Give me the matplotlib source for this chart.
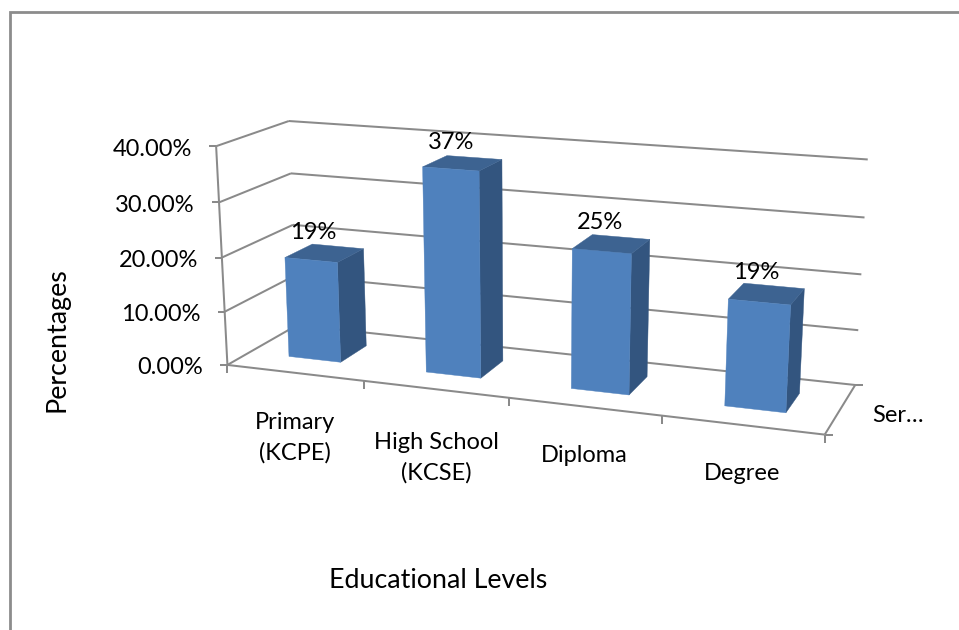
import numpy as np
import matplotlib
matplotlib.use("Agg")
import matplotlib.pyplot as plt
from matplotlib.patches import Polygon

categories = ["Primary\n(KCPE)", "High School\n(KCSE)", "Diploma", "Degree"]
values = [18.7, 37.2, 25, 18.7]
value_labels = ["19%", "37%", "25%", "19%"]
y_ticks = [0, 10, 20, 30, 40]
y_tick_labels = ["0.00%", "10.00%", "20.00%", "30.00%", "40.00%"]
series_label = "Ser\u2026"
x_title = "Educational Levels"
y_title = "Percentages"

Y_MAX = 40.0
BAR_W = 0.385  # fraction of category width
D0, D1 = 0.31, 0.71  # bar depth extent

# calibration of the chart box: (u, v, w) -> pixel
cal = [((0, 0, 0), (227.3, 365.0)), ((0, 1, 0), (216.0, 146.7)),
       ((0, 0, 1), (297.0, 325.0)), ((0, 1, 1), (289.0, 120.7)),
       ((1, 0, 1), (855.0, 385.7)), ((1, 1, 1), (867.7, 159.3)),
       ((1, 0, 0), (825.0, 434.0))]
A, b = [], []
for (u, v, w), (px, py) in cal:
    A.append([u, v, w, 1, 0, 0, 0, 0, -px*u, -px*v, -px*w]); b.append(px)
    A.append([0, 0, 0, 0, u, v, w, 1, -py*u, -py*v, -py*w]); b.append(py)
m = np.linalg.lstsq(np.array(A, float), np.array(b, float), rcond=None)[0]
M = np.append(m, 1.0).reshape(3, 4)


def P(u, val, w):
    """Project box coordinates: u along categories, val in data units, w depth."""
    q = M @ np.array([u, val / Y_MAX, w, 1.0])
    return q[0] / q[2], q[1] / q[2]


plt.rcParams["font.family"] = ["Lato", "DejaVu Sans"]
fig = plt.figure(figsize=(9.59, 6.30), dpi=100, facecolor="white")
ax = fig.add_axes([0, 0, 1, 1])
ax.set_xlim(0, 959)
ax.set_ylim(630, 0)
ax.axis("off")

GRID = "#8a8a8a"
LW = 1.45
FS = 17.0
FS_TITLE = 19.3


def line(p, q, lw=LW, c=GRID, z=1):
    ax.plot([p[0], q[0]], [p[1], q[1]], color=c, lw=lw, solid_capstyle="butt", zorder=z)


# outer chart frame
ax.plot([9.5, 9.5, 959], [630, 12.3, 12.3], color="#8c8c8c", lw=2.0,
        solid_joinstyle="miter", zorder=1)

# walls
for t, lab in zip(y_ticks, y_tick_labels):
    line(P(0, t, 0), P(0, t, 1))
    line(P(0, t, 1), P(1, t, 1))
    a = P(0, t, 0)
    line(a, (a[0] - 7, a[1]))
    ax.text(a[0] - 24, a[1] + 3, lab, ha="right", va="center", fontsize=FS, color="black")
line(P(0, 0, 0), P(0, Y_MAX, 0))

# floor
line(P(0, 0, 0), P(1, 0, 0))
line(P(1, 0, 0), P(1, 0, 1))
for i in range(len(categories) + 1):
    a = P(i / len(categories), 0, 0)
    line(a, (a[0], a[1] + 8))
a = P(1, 0, 0)
line(a, (a[0] + 8, a[1]))
a = P(1, 0, 1)
line(a, (a[0] + 8, a[1]))

# bars
FRONT, SIDE, TOP = "#4f81bd", "#33557f", "#3d6391"
n = len(categories)
label_xy = [(295, 438), (436, 458), (584, 456), (742, 474)]
for i, val in enumerate(values):
    c = (i + 0.5) / n - 0.003 + 0.0015 * i
    u0, u1 = c - BAR_W / n * 0.5, c + BAR_W / n * 0.5
    f = [P(u0, 0, D0), P(u1, 0, D0), P(u1, val, D0), P(u0, val, D0)]
    s = [P(u1, 0, D0), P(u1, 0, D1), P(u1, val, D1), P(u1, val, D0)]
    t = [P(u0, val, D0), P(u1, val, D0), P(u1, val, D1), P(u0, val, D1)]
    ax.add_patch(Polygon(s, closed=True, fc=SIDE, ec=SIDE, lw=0.3, zorder=3))
    ax.add_patch(Polygon(t, closed=True, fc=TOP, ec=TOP, lw=0.3, zorder=3))
    ax.add_patch(Polygon(f, closed=True, fc=FRONT, ec=FRONT, lw=0.3, zorder=3))
    fx = P(c, val, D0)[0]
    ty = P(c, val, (D0 + D1) / 2)[1]
    ax.text(fx + 2 - 1.7 * i, ty - 21, value_labels[i], ha="center", va="center",
            fontsize=FS, color="black", zorder=5)
    ax.text(label_xy[i][0], label_xy[i][1], categories[i], ha="center", va="center",
            fontsize=FS, color="black", linespacing=1.5, zorder=5)

ax.text(898, 415, series_label, ha="center", va="center", fontsize=FS, color="black")
ax.text(438, 581, x_title, ha="center", va="center", fontsize=FS_TITLE, color="black")
ax.text(57, 340, y_title, ha="center", va="center", rotation=90, fontsize=FS_TITLE, color="black")

fig.savefig("out.png", dpi=100, facecolor="white")
